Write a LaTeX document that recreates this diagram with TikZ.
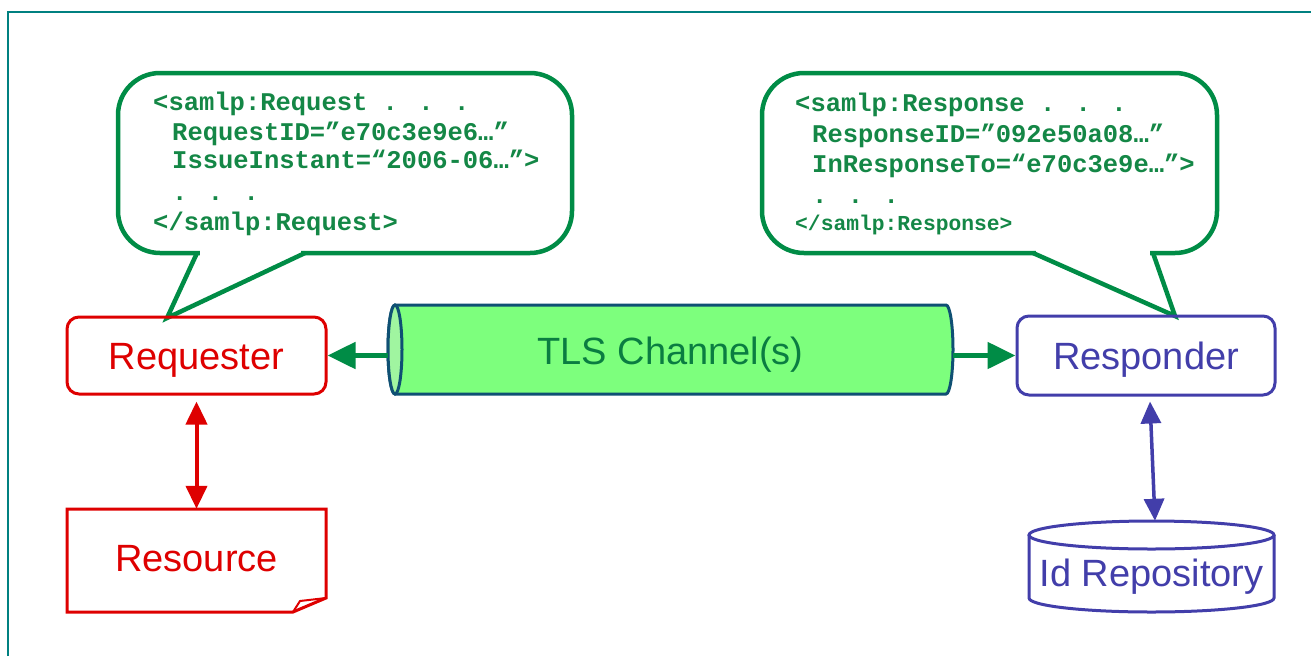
\documentclass[tikz,border=0pt]{standalone}
\usepackage{fontspec}
\usetikzlibrary{arrows.meta}
\newfontfamily\labelfont{Liberation Sans}
\newfontfamily\codefont{Liberation Mono}
\definecolor{reqred}{RGB}{222,0,0}
\definecolor{respblue}{RGB}{66,62,170}
\definecolor{msggreen}{RGB}{0,140,70}
\definecolor{codegreen}{RGB}{20,135,70}
\definecolor{pipefill}{RGB}{125,255,125}
\definecolor{pipeface}{RGB}{160,245,160}
\definecolor{pipeline}{RGB}{15,80,115}
\definecolor{pipetext}{RGB}{10,125,65}
\definecolor{frameteal}{RGB}{0,128,128}

\begin{document}
\begin{tikzpicture}[x=1pt,y=-1pt,
  boxtext/.style={font=\labelfont\fontsize{38}{40}\selectfont, text height=27pt, text depth=0pt, inner sep=0pt},
  roundbox/.style={boxtext, rounded corners=12, line width=3},
  code/.style={font=\codefont\bfseries\fontsize{25.5}{30}\selectfont, text=codegreen, anchor=base west, inner sep=0pt},
  bubble/.style={draw=msggreen, line width=4.5},
  greenarrow/.style={draw=msggreen, line width=5, -{Triangle[length=28pt,width=26pt]}},
  redarrow/.style={draw=reqred, line width=4, >={Triangle[length=23pt,width=21pt]}, <->},
  bluearrow/.style={draw=respblue, line width=3.5, >={Triangle[length=22pt,width=20pt]}, <->},
  outline/.style={line width=3}]
\useasboundingbox (0,0) rectangle (1311,656);

% page frame
\draw[frameteal, line width=1.5] (8,656) -- (8,12) -- (1311,12);

% speech bubble of the request
\draw[bubble, fill=white, rounded corners=42] (118,73) rectangle (572,253);
\fill[white] (200,249) rectangle (301,257);
\draw[bubble] (197,253) -- (167,318) -- (305,253);
\node[code] (q1) at (153,110) {<samlp:Request . . .};
\node[code] (q2) at (172,140) {RequestID=”e70c3e9e6…”};
\node[code] (q3) at (172,168) {IssueInstant=“2006-06…”>};
\node[code] (q4) at (172,200) {. . .};
\node[code] (q5) at (153,230) {</samlp:Request>};

% speech bubble of the response
\draw[bubble, fill=white, rounded corners=42] (762,73) rectangle (1217,253);
\fill[white] (1036,249) rectangle (1150,257);
\draw[bubble] (1033,253) -- (1175,316) -- (1153,253);
\node[code] (s1) at (795,111) {<samlp:Response . . .};
\node[code] (s2) at (812,142) {ResponseID=”092e50a08…”};
\node[code] (s3) at (812,172) {InResponseTo=“e70c3e9e…”>};
\node[code] (s4) at (812,203) {. . .};
\node[code, font=\codefont\bfseries\fontsize{21.3}{26}\selectfont] (s5) at (795,230) {</samlp:Response>};

% TLS pipe
\draw[pipeline, line width=3, fill=pipefill]
  (395,305) -- (946,305)
  arc[start angle=-90, end angle=90, x radius=7, y radius=44.5]
  -- (395,394)
  arc[start angle=90, end angle=270, x radius=7, y radius=44.5] -- cycle;
\draw[pipeline, line width=3, fill=pipeface] (395,349.5) ellipse[x radius=7, y radius=44.5];
\node[boxtext, text=pipetext, minimum width=565, minimum height=89] (tls) at (670.5,351) {TLS Channel(s)};

% requester side
\node[roundbox, draw=reqred, text=reqred, minimum width=259, minimum height=77] (req) at (196.5,355.5) {Requester};
\node[boxtext, text=reqred, minimum width=259, minimum height=97] (res) at (196.5,557.5) {Resource};
\draw[reqred, outline, line join=miter] (67,509) -- (326,509) -- (326,598) -- (293,612) -- (67,612) -- cycle;
\draw[reqred, line width=2] (293,612) -- (300,601) -- (326,598);

% responder side
\node[roundbox, draw=respblue, text=respblue, minimum width=258, minimum height=79] (resp) at (1146,355.5) {Responder};
\node[boxtext, text=respblue, minimum width=245, minimum height=103] (idr) at (1151.5,572.5) {Id Repository};
\draw[respblue, outline] (1029,535) -- (1029,598)
  arc[start angle=180, end angle=0, x radius=122.5, y radius=14] -- (1274,535);
\draw[respblue, outline] (1151.5,535) ellipse[x radius=122.5, y radius=14];

% connectors
\draw[greenarrow] (req.east -| tls.west) -- (req.east);
\draw[greenarrow] (resp.west -| tls.east) -- (resp.west);
\draw[redarrow] ([yshift=-6pt]req.south) -- (res.north);
\draw[bluearrow] ([xshift=4pt,yshift=-5pt]resp.south) -- ([xshift=3.5pt]idr.north);
\end{tikzpicture}
\end{document}
